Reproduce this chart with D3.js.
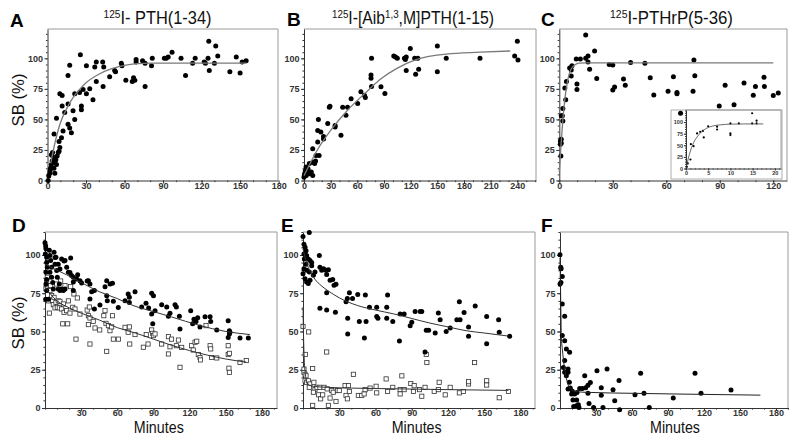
<!DOCTYPE html>
<html><head><meta charset="utf-8">
<script src="https://cdn.jsdelivr.net/npm/d3@7"></script>
<style>body{margin:0;background:#fff} svg{display:block} text{font-family:"Liberation Sans",Arial,Helvetica,sans-serif}</style>
</head><body><svg id="c" width="800" height="443"></svg>
<script>
// ---------------- DATA ----------------
const panelLetters = ["A","B","C","D","E","F"];
const titleA = [["125",true],["I- PTH(1-34)",false]];
const titleB = [["125",true],["I-[Aib",false],["1,3",true],[",M]PTH(1-15)",false]];
const titleC = [["125",true],["I-PTHrP(5-36)",false]];
const yAxisLabel = "SB (%)";
const xAxisLabel = "Minutes";
const yTicksPct = [0,25,50,75,100];
const xTicksA = [0,30,60,90,120,150,180];
const xTicksB = [0,30,60,90,120,150,180,210,240];
const xTicksC = [0,30,60,90,120];
const xTicksBottom = [30,60,90,120,150,180];
const xTicksInset = [0,5,10,15,20];

const aPoints = [[0.5,0],[1,3.6],[2,8],[2.3,10],[3,13],[3.6,16],[4.4,19],[3,21],[3.9,23],[5,10],[5.7,15],[7,13],[6.5,17],[7.5,20],[8.3,23],[9,24],[9.6,27],[5.7,6],[1.8,6],[5.1,38],[7,51],[9,32],[10.9,35],[12.1,40.6],[11.4,61],[11.4,69.5],[9.6,71],[13.4,55.7],[16,62.6],[16,46],[17.3,43],[18.6,39],[21.2,50],[19.9,57],[16,86],[17.3,94.4],[21.2,71],[25,72],[26.4,61],[26.4,58],[25.6,103],[27.7,74.5],[30.3,94],[32.9,75],[30.3,71],[35.4,66],[36.8,93],[38,81],[38,97],[43,97],[43.3,77],[43.8,93],[48.4,85],[52.3,90],[53,89],[57.5,96],[58,94],[61,82],[66,81],[67,84],[68,82],[69,97],[69,99],[74,98],[76,96],[76,77],[81,94],[81.6,100],[91,100],[92.5,100],[94,101],[97,105],[104,100],[107.5,86],[113,96],[115,100],[122,97],[123,96],[125,100],[125.6,114],[126,90],[130,96],[131,110],[132.6,102],[142,89],[147,101],[150,88],[151.6,97],[154.7,98]];
const aFit = [[2.5,14],[5,27],[10,47],[15,59],[20,68],[25,74.5],[30,80],[40,87],[50,91.5],[60,94.3],[70,95.6],[80,96],[155,96]];

const bPoints = [[0.4,4],[0,2.7],[0.7,5.5],[1.5,8],[2.3,11],[2.6,4],[3.4,7],[4.5,9.6],[6,14],[6.4,5.5],[8.2,7],[9.8,4],[9.8,15],[9.8,26],[12,14],[13,16],[13.5,20.5],[15.4,31.5],[15.4,41],[16.2,50],[17,20.5],[19,39.7],[22,34],[22,36],[26.7,46.6],[28.5,60],[29.2,60.8],[35,45],[35,43.8],[41.6,37],[43.5,60],[47.2,53.4],[49,60],[53,67],[60.4,63],[64,72.6],[68,69.8],[69,68],[75.4,86.3],[75.4,83.6],[76,77],[76,100],[86.6,76.7],[91,71.2],[101,102],[103,101],[105,100],[113,100],[114,99],[115,101],[115,90],[119.6,108],[124.5,100],[125.6,87],[128,100],[129,91],[150,110],[150,89],[160,100],[198,100],[237,102],[240,114],[240.7,98.6]];
const bFit = [[0,4],[15,25],[30,41],[49,57.5],[68,71],[87,83.5],[105,92],[126,99],[160,103.5],[198,105],[232,106]];

const cPoints = [[0.9,20],[0.6,29.7],[0.6,32.4],[1.1,33.8],[1.1,30.5],[1.1,53],[2,48.6],[1.7,53],[2,59],[3.6,66],[3.1,75.7],[4,81],[5.8,92],[6.7,90.5],[7.1,94],[6.7,85.6],[9.5,99.4],[11.8,99.4],[9.9,79],[9.9,74.4],[14.8,119],[14.8,100],[16.1,102],[16.1,97],[17,91],[19.8,106],[21,83.5],[28,95],[30,94.6],[30,74],[31,76.5],[36,83],[37,78],[40,96.5],[48,96],[51,84],[53,70],[61,73],[64,85],[66,72],[66,71],[68,55],[75.5,98.6],[75,73],[76,85.7],[89.7,61],[93,78],[98,62],[103.6,79.7],[108.8,69.7],[110,77],[114.8,84.6],[115,77],[120,69.5],[122.8,71.6]];
const cFit = [[0,7],[1,30],[2,50],[3,65],[4,76],[5,84],[6,89],[7.5,93],[9,95],[11,96],[15,96.3],[120,96.3]];
const cInsetPoints = [[0.2,3.6],[0.4,11],[1,19.4],[1.1,52.5],[1.7,48],[2.5,75.5],[3.2,79],[4,67],[3.8,81],[5,91],[7,90],[7,84],[10,75.5],[10,72],[10,97],[11.9,97],[14.9,119],[14.9,97],[15.9,103],[15.9,97]];
const cInsetFit = [[0,0],[0.5,21],[1,38],[1.5,51],[2,61],[2.5,68],[3.5,79],[4.7,87],[6,91.5],[7.7,94],[10,95.5],[13,96],[17.4,96]];

const dCircles = [[0,108],[0.55,106],[0.8,104],[0.3,100.6],[1.4,98.5],[1.4,95],[1.9,92],[0.8,88.7],[1.4,84],[0.8,81],[1.4,76.7],[0.55,71],[2.8,71],[3.6,103],[4.1,99.6],[4.7,96.3],[5.5,92],[4.1,88.7],[5.5,85.4],[6.4,82],[6.9,77.8],[7.5,101.7],[8.3,98.4],[9.1,98.5],[8.3,94],[9.7,89.8],[10.2,85.4],[11,94],[11,77.8],[11.9,81],[12.4,90.8],[12.4,76.7],[13.8,77.8],[15.2,76.7],[13.8,97.4],[16.6,96.4],[15.8,96],[16.6,77.8],[18,92],[19.4,88.7],[21.3,98],[20.7,88.6],[22,86.5],[23.5,85.4],[23.5,82.3],[23.5,76.7],[26.3,84.3],[27.1,87],[29,83.2],[30.4,81.7],[35,83],[36,83.2],[37.3,81],[37.3,71.2],[38.7,76],[41,76.7],[41,64.7],[45.6,67.3],[51.2,83.2],[49.8,79.3],[51.2,73.4],[54,81],[51.7,70],[56,81.5],[56.7,69.7],[60.8,65.7],[66.4,70],[69,74.5],[70,72.3],[70,69],[74.7,76],[80.2,66],[83.8,68.4],[86,65.4],[88.5,75],[90,73.4],[88.5,61.4],[89.4,55],[91.3,63.6],[96.8,67.5],[101,66],[102.4,60],[103.7,61.9],[107.9,67.5],[109,66],[111.5,60],[112,51.6],[120.9,63.6],[122.5,55],[123.6,58],[125.3,56.6],[126.7,59],[128.6,53],[132.8,59.7],[137,59.7],[137.5,56.6],[142.5,51],[152,57],[153,50.5],[152,46],[153,48.4],[153.5,49.5],[161.8,45.8],[168.7,45.8]];
const dSquares = [[0.8,77.8],[1.4,82],[1.9,85.4],[2.8,70],[3.6,62],[4.1,76.7],[4.7,80],[5.5,73.4],[6.4,70],[6.9,67.5],[7.5,72.3],[8.3,65.4],[9.1,69],[9.7,81],[10.2,65.8],[11,70],[11.9,65.4],[12.4,69.7],[13,83],[13.8,64.7],[14.7,55],[15.2,68],[15.8,62.5],[16.6,80],[18,63.6],[18.8,55],[19.4,70],[20.7,62],[21.3,79.3],[23,65.8],[24,74.5],[24.9,64.7],[25.7,45],[26.8,71.9],[29,61.4],[35,64],[36,60.3],[36,54.5],[36.8,66],[37.3,58.8],[37.3,41.8],[40,56.6],[41.5,52.3],[45.4,51],[48.8,60.3],[49.8,63.6],[50.6,55.3],[51.2,37],[52.6,53.8],[53.9,50.5],[55.3,53],[56,60.3],[56.7,45],[60.9,45],[66.4,52.7],[69,49.5],[70,53],[70.3,41.8],[74.7,48],[81.6,39.7],[84,48],[85.5,41.8],[88.5,51],[89.4,48.8],[90,47.3],[91.3,48.4],[96.8,41.8],[102.4,46.6],[102.4,35.3],[103.7,40],[105,45],[109,40.7],[110.7,44.4],[112,26.6],[113.4,39.6],[121.7,40.7],[123,37.9],[124.5,43],[125.9,43.6],[127.2,34.9],[128.6,33],[129,31.4],[133.6,53.8],[137,40.7],[137.5,38.6],[138.3,33],[142.5,32.7],[152,40.7],[152,34.9],[153,35.7],[152.6,26],[153,23.3],[161.8,29.8],[167,31]];
const dFitCircles = [[0,94],[10,90],[18,87],[30,82],[45,76],[60,71.5],[73,67],[90,63],[105,59.5],[128,54],[150,50],[170,48]];
const dFitSquares = [[0,79],[5,74],[10,70],[20,65.5],[30,62],[45,57.5],[60,52.5],[75,49],[90,45],[105,41],[120,37.5],[135,34.5],[150,32],[167,30]];

const eCircles = [[0,112],[5.2,114.6],[0.8,107],[1.7,105],[2.5,102.8],[0.8,100.6],[3,99.6],[1.1,97.4],[4.4,97.4],[5.8,96.3],[2.5,94],[7.2,95],[0.8,91],[3,90],[5.2,88.8],[7.2,93],[8.6,86.7],[0,87.7],[1.7,84.5],[3,82.4],[4.4,81.3],[5.8,83.4],[9.9,88.8],[13.5,99.6],[14,92],[15.5,90],[17,91],[19,90],[21,90.3],[19.6,87.3],[22.4,83.4],[24.6,83.9],[25.7,80.2],[27.3,80.9],[14,65.2],[19.6,64],[19.6,75.3],[26.8,62.6],[35.6,69.4],[36.7,71.6],[38.4,75.3],[41,71.6],[45.3,74.2],[51.6,73.9],[55,65.8],[61,65.8],[61,59.8],[62,58.7],[70,73.9],[69.3,65.8],[69.3,58.7],[74.3,56.5],[80.4,61.5],[83.7,61.5],[88.7,53.8],[90,56],[92.8,63],[97,63],[98.3,63],[102,50.8],[104,50.8],[109.4,49],[112,62],[113.5,57.6],[118.5,50],[121.8,52.3],[127.3,57.6],[130,57.6],[129.4,69.5],[133.3,62.4],[137,53],[137,46.9],[142.5,66.7],[152,59.8],[152,42],[161.9,57.6],[162.4,49.5],[171,46.9],[37,58.7],[37,48.4],[46.6,56.6],[52.2,56.6],[50.8,45.8],[79.8,43.7],[101,36.6]];
const eSquares = [[0,53.3],[4.7,49.7],[1.9,35],[0.8,25.4],[0.8,23.2],[1.7,22],[2.5,21],[1.7,17.8],[3,16.8],[4.4,17.8],[5.8,15.7],[5.2,13.5],[8,25.8],[9,16.8],[9.9,12],[8.6,10.3],[11.6,13.5],[13,8.6],[8,1.7],[14,13.5],[14.6,6],[16.3,8.6],[17.4,13.5],[19.6,36.6],[20,12.5],[21,1.7],[22.4,6.5],[23.8,11.4],[25,10.3],[27.3,4.3],[28.5,11.4],[30,11.4],[34.8,14.6],[35.6,8.2],[36.7,6],[37.6,14.6],[38.4,10.8],[41.7,22],[45.8,8.2],[48.6,8.2],[50.6,9.2],[51.4,12],[55.5,13],[60.5,14.2],[61,9.9],[68.8,19],[70,10.8],[74.3,13.5],[80.4,12],[80.4,9.2],[81.8,21],[83.7,12],[89.2,16],[91.4,10.8],[92,14.6],[96.4,12],[98.3,7.7],[101,13.5],[102,35],[102.5,29.7],[108.6,10.8],[112,12],[112.7,16.8],[117.7,8.6],[121.8,13.5],[129.4,9.9],[132.7,10.8],[137,15.7],[137,17.2],[142,29.7],[152,17.8],[152,15],[162.4,6.7],[170,10.8]];
const eFitCircles = [[0,104],[3,95],[6,89],[10,84],[15,80],[20,77],[30,72],[45,67],[60,64],[75,61.5],[90,58.5],[105,55.5],[120,53],[135,50.5],[150,49],[170,47]];
const eFitSquares = [[0,66],[0.5,45],[1,32],[2,22],[3,17.5],[5,15],[10,14],[20,13.5],[40,13],[80,12.5],[120,12],[170,11.5]];

const fCircles = [[0,100.2],[0.6,92],[0.9,91],[1.9,86],[0,81],[0.8,82],[1.9,68],[3.9,60],[1.9,47.3],[3.9,44],[5.3,38.6],[8,36.4],[3.9,31],[2.8,26.4],[3.9,23.3],[6.7,25.5],[6.7,23.3],[5.3,21],[7.8,16.8],[6.7,12.4],[8.6,13.1],[10.3,10.9],[9.7,9.2],[10.8,5.2],[11.4,1],[13.6,1.5],[15.8,0.4],[15.3,2.2],[13.9,5.2],[12.2,9.2],[14.2,10.2],[16.4,12.8],[18.6,12.8],[20.6,21],[21.4,13.3],[23.3,14.9],[25.3,16.6],[23.3,9.6],[24.2,3],[28,0.4],[30.8,24.4],[34.4,13.3],[34.4,8.4],[35.8,0.4],[39.2,25.5],[44.2,12],[45.6,4.8],[49.2,17.9],[49.7,-1.1],[62.5,8.7],[67.2,22.7],[70,9.6],[74.4,0.4],[94.4,6.5],[112.5,22.7],[117.5,9.6],[142.5,11.8]];
const fFit = [[0,98],[0.4,80],[0.8,60],[1.1,47],[2,38],[2.8,32],[4,25],[5.3,19.5],[8,13],[12,11],[20,10.3],[60,9.6],[100,9.1],[167,8.4]];

// ---------------- DRAWING ----------------
const svg = d3.select("#c");
svg.append("rect").attr("width",800).attr("height",443).attr("fill","#fff");

function scaledText(parent, x, y, target, build, rotate) {
  const g = parent.append("g");
  const t = g.append("text").attr("text-anchor","middle");
  build(t);
  const w = t.node().getBBox().width;
  const s = w > 0 ? target / w : 1;
  g.attr("transform", `translate(${x},${y})` + (rotate ? " rotate(-90)" : "") + ` scale(${s},1)`);
  return g;
}

function buildTitle(parts, size) {
  return t => {
    t.attr("font-size", size).attr("fill","#111");
    let raised = false;
    parts.forEach(([s, sup]) => {
      const ts = t.append("tspan").text(s);
      if (sup) { ts.attr("font-size", size*0.62); if (!raised) { ts.attr("dy", -size*0.36); raised = true; } }
      else if (raised) { ts.attr("dy", size*0.36); raised = false; }
    });
  };
}

function styleAxis(g, fs) {
  g.select(".domain").attr("stroke","#333").attr("stroke-width",1);
  g.selectAll(".tick line").attr("stroke","#333");
  g.selectAll(".tick text").attr("font-size",fs).attr("font-weight","bold").attr("fill","#333")
    .attr("font-family",'"Liberation Sans",Arial,sans-serif');
}

function drawAxes(p, x, y, opt) {
  const g = svg.append("g");
  g.append("path").attr("d",`M${p.l},${p.t}H${p.r}V${p.b}`).attr("fill","none")
    .attr("stroke","#9a9a9a").attr("stroke-width",1);
  const ts = opt.tick||3, tm = opt.minor||1.6, fs = opt.fs||9;
  const gyMin = g.append("g").attr("transform",`translate(${p.l},0)`)
    .call(d3.axisLeft(y).tickValues(d3.range(0,p.yMax+0.001,opt.yMinorStep||5)).tickSize(tm).tickFormat(""));
  gyMin.select(".domain").remove(); gyMin.selectAll("line").attr("stroke","#333");
  const gy = g.append("g").attr("transform",`translate(${p.l},0)`)
    .call(d3.axisLeft(y).tickValues(opt.yTicks).tickSize(ts).tickSizeOuter(0).tickPadding(opt.ypad!==undefined?opt.ypad:1.5));
  styleAxis(gy, fs);
  const gxMin = g.append("g").attr("transform",`translate(0,${p.b})`)
    .call(d3.axisBottom(x).tickValues(d3.range(0,p.xMax+0.001,opt.xMinorStep||10)).tickSize(tm).tickFormat(""));
  gxMin.select(".domain").remove(); gxMin.selectAll("line").attr("stroke","#333");
  const gx = g.append("g").attr("transform",`translate(0,${p.b})`)
    .call(d3.axisBottom(x).tickValues(opt.xTicks).tickSize(ts).tickSizeOuter(0).tickPadding(opt.xpad!==undefined?opt.xpad:-1));
  styleAxis(gx, fs);
  return g;
}

function drawCircles(data, x, y, r) {
  svg.append("g").selectAll("circle").data(data).join("circle")
    .attr("cx",d=>x(d[0])).attr("cy",d=>y(d[1])).attr("r",r).attr("fill","#000");
}
function drawSquares(data, x, y, s) {
  svg.append("g").selectAll("rect").data(data).join("rect")
    .attr("x",d=>x(d[0])-s/2).attr("y",d=>y(d[1])-s/2).attr("width",s).attr("height",s)
    .attr("fill","#fff").attr("stroke","#333").attr("stroke-width",0.8);
}
function drawFit(data, x, y, color, w) {
  const line = d3.line().x(d=>x(d[0])).y(d=>y(d[1])).curve(d3.curveMonotoneX);
  svg.append("path").datum(data).attr("d",line).attr("fill","none").attr("stroke",color).attr("stroke-width",w);
}

const topRow = {t:29, b:180.5, yMax:124};
const botRow = {t:232, b:408, yMax:115};
const P = {
  A: {...topRow, l:47.5, r:278, xMax:179.5, xTicks:xTicksA},
  B: {...topRow, l:304, r:536, xMax:261, xTicks:xTicksB},
  C: {...topRow, l:559.3, r:787, xMax:127.7, xTicks:xTicksC},
  D: {...botRow, l:45, r:277, xMax:192.5, xTicks:xTicksBottom},
  E: {...botRow, l:303, r:535, xMax:192, xTicks:xTicksBottom},
  F: {...botRow, l:560, r:788, xMax:190, xTicks:xTicksBottom}
};
const sc = {};
Object.entries(P).forEach(([k,p]) => {
  sc[k] = {x: d3.scaleLinear([0,p.xMax],[p.l,p.r]), y: d3.scaleLinear([0,p.yMax],[p.b,p.t])};
  drawAxes(p, sc[k].x, sc[k].y, {yTicks: yTicksPct, xTicks: p.xTicks});
});

// Inset in C (drawn before main points)
const pi = {l:686, r:781, t:110, b:168.5, xMax:21.4, yMax:126};
svg.append("rect").attr("x",671).attr("y",110).attr("width",111).attr("height",69)
  .attr("fill","#fff").attr("stroke","#9a9a9a").attr("stroke-width",0.8);
const xi = d3.scaleLinear([0,pi.xMax],[pi.l,pi.r]), yi = d3.scaleLinear([0,pi.yMax],[pi.b,pi.t]);
drawAxes(pi, xi, yi, {yTicks:yTicksPct, xTicks:xTicksInset, tick:2, minor:1, ypad:1, xpad:1, fs:5.5, xMinorStep:1, yMinorStep:5});
drawCircles(cInsetPoints, xi, yi, 1.1);
drawFit(cInsetFit, xi, yi, "#444", 0.8);

drawCircles(aPoints, sc.A.x, sc.A.y, 2.5);
drawFit(aFit, sc.A.x, sc.A.y, "#7a7a7a", 1.3);
drawCircles(bPoints, sc.B.x, sc.B.y, 2.5);
drawFit(bFit, sc.B.x, sc.B.y, "#7a7a7a", 1.3);
drawCircles(cPoints, sc.C.x, sc.C.y, 2.5);
drawFit(cFit, sc.C.x, sc.C.y, "#7a7a7a", 1.3);

drawSquares(dSquares, sc.D.x, sc.D.y, 4.2);
drawCircles(dCircles, sc.D.x, sc.D.y, 2.5);
drawFit(dFitCircles, sc.D.x, sc.D.y, "#333", 1);
drawFit(dFitSquares, sc.D.x, sc.D.y, "#333", 1);

drawSquares(eSquares, sc.E.x, sc.E.y, 4.2);
drawCircles(eCircles, sc.E.x, sc.E.y, 2.5);
drawFit(eFitCircles, sc.E.x, sc.E.y, "#333", 1);
drawFit(eFitSquares, sc.E.x, sc.E.y, "#333", 1);

drawCircles(fCircles, sc.F.x, sc.F.y, 2.5);
drawFit(fFit, sc.F.x, sc.F.y, "#222", 1);

scaledText(svg, 157.5, 24, 108, buildTitle(titleA, 18));
scaledText(svg, 413, 24, 162, buildTitle(titleB, 18));
scaledText(svg, 671.5, 24, 123, buildTitle(titleC, 18));

const letterPos = [[10,27],[287,26],[541,26],[12,232],[281,232],[541,232]];
panelLetters.forEach((L,i) => {
  svg.append("text").attr("x",letterPos[i][0]).attr("y",letterPos[i][1])
    .attr("font-size",19).attr("font-weight","bold").attr("fill","#000").text(L);
});

[[24,100],[24,323]].forEach(([x,y]) =>
  scaledText(svg, x, y, 53, t => t.attr("font-size",17).attr("fill","#111").text(yAxisLabel), true));
[158.8,416.7,675].forEach(cx =>
  scaledText(svg, cx, 433, 50, t => t.attr("font-size",17).attr("fill","#111").text(xAxisLabel)));
</script></body></html>
